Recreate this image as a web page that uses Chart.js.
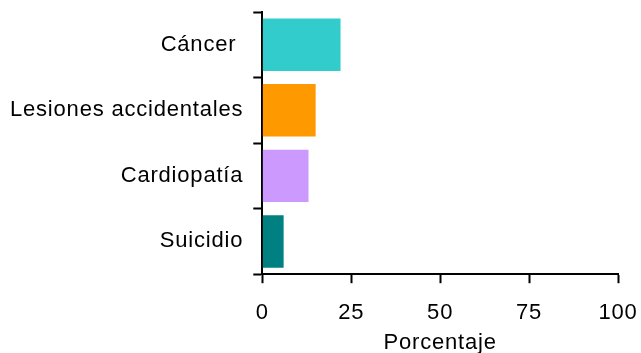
<!DOCTYPE html>
<html>
<head>
<meta charset="utf-8">
<script src="https://cdn.jsdelivr.net/npm/chart.js@4/dist/chart.umd.min.js"></script>
<style>
  html, body { margin: 0; padding: 0; background: #fff; }
  #wrap { width: 641px; height: 353px; }
</style>
</head>
<body>
<div id="wrap"><canvas id="c" width="641" height="353"></canvas></div>
<script>
// Causes of death, share in percent
const categories = ['Cáncer ', 'Lesiones accidentales', 'Cardiopatía', 'Suicidio'];
const porcentajes = [22, 15, 13, 6];
const barColors = ['#33CCCC', '#FF9900', '#CC99FF', '#008080'];
const xTicks = [0, 25, 50, 75, 100];
const xTitle = 'Porcentaje';

// Spaced-out lettering for all chart text
const spacing = {
  id: 'spacing',
  beforeUpdate(chart) { chart.ctx.letterSpacing = '0.8px'; },
  beforeDraw(chart) { chart.ctx.letterSpacing = '0.8px'; }
};

// Let the layout padding alone decide the plot edges
function noOverflow(scale) {
  scale.paddingTop = 0;
  scale.paddingBottom = 0;
  scale.paddingLeft = 0;
  scale.paddingRight = 0;
}

Chart.defaults.font.family = '"Liberation Sans", Arial, sans-serif';
Chart.defaults.font.size = 22;
Chart.defaults.color = '#000';

new Chart(document.getElementById('c'), {
  type: 'bar',
  data: {
    labels: categories,
    datasets: [{
      data: porcentajes,
      backgroundColor: barColors,
      borderWidth: 0,
      barPercentage: 0.8,
      categoryPercentage: 1.0
    }]
  },
  options: {
    indexAxis: 'y',
    responsive: false,
    animation: false,
    layout: { padding: { left: 0, top: 12, right: 23, bottom: 0 } },
    plugins: { legend: { display: false }, tooltip: { enabled: false } },
    scales: {
      x: {
        min: 0,
        max: 100,
        afterBuildTicks(axis) { axis.ticks = xTicks.map(v => ({ value: v })); },
        afterFit: noOverflow,
        grid: { drawOnChartArea: false, drawTicks: true, tickLength: 9, tickWidth: 2, color: '#000' },
        border: { color: '#000', width: 2 },
        ticks: { padding: 17, maxRotation: 0 },
        title: { display: true, text: xTitle, padding: { top: -14, bottom: -3 } }
      },
      y: {
        afterFit: noOverflow,
        grid: { drawOnChartArea: false, drawTicks: true, tickLength: 9, tickWidth: 2, color: '#000', offset: true },
        border: { color: '#000', width: 2 },
        ticks: { padding: 10 }
      }
    }
  },
  plugins: [spacing]
});
</script>
</body>
</html>
